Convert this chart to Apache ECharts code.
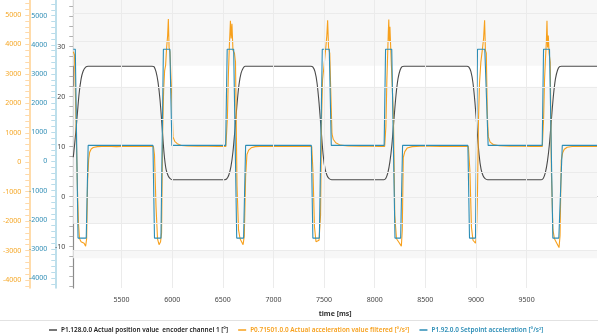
<!DOCTYPE html>
<html>
<head>
<meta charset="utf-8">
<script src="https://cdn.jsdelivr.net/npm/echarts@6/dist/echarts.min.js"></script>
<style>
  html, body { margin: 0; padding: 0; background: #fff; }
  #chart { width: 598px; height: 336px; }
</style>
</head>
<body>
<div id="chart"></div>
<script>
// Axis labels
const timeLabels = [5500, 6000, 6500, 7000, 7500, 8000, 8500, 9000, 9500];
const positionLabels = [-10, 0, 10, 20, 30];
const accelLabels = [-4000, -3000, -2000, -1000, 0, 1000, 2000, 3000, 4000, 5000];

// Background bands and grid rows (position-axis units)
const bandRanges = [[39.34, 26.2], [22.0, -5.3], [-10.7, -12.3]];
const gridRows = [36.7, 31.1, 21.9, 15.5, 4.9, -0.1, -5.3, -10.7];

// P1.128.0.0 Actual position value encoder channel 1 [°]
const positionTime = [
  5023, 5035, 5050, 5065, 5080, 5100, 5120, 5145, 5170,
  5800, 5820, 5840, 5860, 5880, 5900, 5920, 5940, 5960, 5980, 6000, 6020,
  6520, 6540, 6560, 6580, 6600, 6620, 6640, 6660, 6680, 6700, 6720,
  7370, 7390, 7410, 7430, 7450, 7470, 7490, 7510, 7530, 7550, 7575,
  8090, 8110, 8130, 8150, 8170, 8190, 8210, 8230, 8250, 8270, 8290,
  8910, 8930, 8950, 8970, 8990, 9010, 9030, 9050, 9070, 9090, 9115,
  9645, 9665, 9685, 9705, 9725, 9745, 9765, 9785, 9805, 9825, 9845, 10195
];
const positionValue = [
  7.9, 10.2, 13.4, 17.0, 20.5, 23.5, 25.1, 25.9, 26.1,
  26.1, 26.0, 25.0, 22.9, 19.3, 14.0, 8.6, 5.4, 4.2, 3.6, 3.4, 3.4,
  3.4, 3.6, 4.4, 6.0, 9.0, 13.5, 18.5, 22.5, 24.7, 25.7, 26.1,
  26.1, 25.9, 25.0, 22.8, 18.8, 13.6, 8.5, 5.5, 4.2, 3.6, 3.4,
  3.4, 3.7, 4.8, 7.0, 10.5, 15.5, 20.3, 23.6, 25.3, 26.0, 26.1,
  26.1, 25.9, 25.0, 22.8, 18.8, 13.6, 8.5, 5.5, 4.2, 3.6, 3.4,
  3.4, 3.7, 4.8, 7.0, 10.5, 15.5, 20.3, 23.6, 25.3, 26.0, 26.1, 26.1
];

// P0.71501.0.0 Actual acceleration value filtered [°/s²]
const filteredTime = [
  5023, 5035, 5045, 5055, 5065, 5075, 5085, 5100, 5115, 5130, 5145, 5155, 5165, 5175, 5185, 5200, 5220, 5260,
  5350, 5450, 5550, 5650, 5750, 5815,
  5825, 5840, 5855, 5870, 5885, 5895, 5905, 5915, 5925, 5935, 5945, 5955, 5962, 5969, 5978, 5988, 5998,
  6008, 6025, 6050, 6090, 6150, 6250, 6350, 6450, 6530,
  6545, 6555, 6565, 6575, 6582, 6590, 6600, 6615, 6625, 6640, 6655, 6670, 6685, 6700, 6712, 6725, 6738,
  6755, 6780, 6820, 6900, 7000, 7100, 7200, 7300, 7378,
  7390, 7405, 7420, 7435, 7450, 7465, 7475, 7485, 7500, 7517, 7527, 7535, 7544, 7556, 7566, 7578, 7590,
  7615, 7660, 7740, 7850, 7950, 8050, 8098,
  8110, 8120, 8128, 8134, 8139, 8144, 8150, 8160, 8175, 8185, 8198, 8215, 8235, 8250, 8263, 8272, 8282,
  8297, 8320, 8370, 8450, 8550, 8650, 8750, 8850, 8925,
  8940, 8955, 8970, 8985, 8995, 9005, 9015, 9025, 9035, 9048, 9062, 9075, 9085, 9093, 9102, 9112, 9122,
  9140, 9170, 9230, 9330, 9450, 9550, 9655,
  9668, 9677, 9686, 9695, 9701, 9707, 9714, 9722, 9733, 9745, 9760, 9775, 9790, 9805, 9820, 9830, 9842,
  9856, 9872, 9900, 9950, 10050, 10195
];
const filteredValue = [
  3750, 3650, 2200, 600, -1000, -2100, -2600, -2700, -2650, -2750, -2850, -2600, -600, 100, 340, 450, 500, 530,
  545, 530, 545, 535, 545, 535,
  250, -1500, -2600, -2800, -2700, -2400, 900, 2400, 3100, 3300, 3900, 4300, 4860, 3900, 3750, 3800, 2000,
  860, 710, 630, 570, 550, 540, 545, 535, 535,
  1500, 3000, 4000, 4800, 4200, 4700, 3800, 3700, 3400, -800, -2300, -2600, -2700, -2800, -2500, -500, 260,
  410, 490, 530, 545, 535, 545, 535, 545, 535,
  -300, -2200, -2700, -2750, -2650, -1800, 1500, 2800, 3300, 3900, 4300, 4820, 3900, 3700, 2400, 960, 780,
  660, 580, 550, 540, 545, 535, 535,
  1200, 2800, 3700, 4400, 4850, 4100, 4600, 3700, 3750, 1500, -1800, -2600, -2700, -2750, -2850, -2300, 160,
  360, 480, 530, 540, 545, 535, 545, 535, 535,
  -300, -2200, -2650, -2700, -2750, -2500, -1000, 1500, 2700, 3400, 3800, 4200, 4820, 3800, 3700, 1600, 860,
  680, 600, 560, 540, 545, 535, 535,
  1500, 2800, 3500, 4100, 4800, 3900, 4300, 3700, 3400, -400, -2300, -2600, -2700, -2750, -2900, -2500, 60,
  320, 440, 510, 535, 545, 535
];

// P1.92.0.0 Setpoint acceleration [°/s²]
const setpointTime = [
  5023, 5043, 5070, 5151, 5170,
  5810, 5825, 5889, 5913, 5977, 5997,
  6528, 6543, 6607, 6637, 6705, 6725,
  7374, 7389, 7453, 7482, 7551, 7571,
  8093, 8107, 8168, 8200, 8256, 8275,
  8920, 8936, 8995, 9015, 9087, 9120,
  9654, 9667, 9726, 9759, 9818, 9852, 10195
];
const setpointValue = [
  3850, 3850, -2630, -2630, 550,
  550, -2630, -2630, 3850, 3850, 550,
  550, 3850, 3850, -2630, -2630, 550,
  550, -2630, -2630, 3850, 3850, 550,
  550, 3850, 3850, -2630, -2630, 550,
  550, -2630, -2630, 3850, 3850, 550,
  550, 3850, 3850, -2630, -2630, 550, 550
];

const pairs = (xs, ys) => xs.map((x, i) => [x, ys[i]]);
const range = (a, b, step) => { const r = []; for (let v = a; v <= b + 1e-9; v += step) r.push(Math.round(v * 100) / 100); return r; };
const plain = v => String(v);

const FONT = 'Noto Sans';
const C_POS = '#4a4a4a', C_ACT = '#f7a01c', C_SET = '#2b8db6';

const chart = echarts.init(document.getElementById('chart'), null, { renderer: 'canvas' });

chart.setOption({
  animation: false,
  backgroundColor: '#ffffff',
  textStyle: { fontFamily: FONT },
  grid: { left: 72, right: 1, top: 0, bottom: 48, containLabel: false },
  xAxis: {
    type: 'value', min: 5023, max: 10195,
    name: 'time [ms]', nameLocation: 'middle', nameGap: 22,
    nameTextStyle: { fontFamily: FONT, fontSize: 7, fontWeight: 'bold', color: '#333' },
    axisLine: { show: true, lineStyle: { color: '#8a8a8a', width: 1 } },
    axisTick: { show: true, length: 3, customValues: range(5100, 10100, 100), lineStyle: { color: '#9a9a9a' } },
    axisLabel: { customValues: timeLabels, formatter: plain, fontSize: 7, color: '#444', margin: 8 },
    splitLine: { show: false }
  },
  yAxis: [
    {
      type: 'value', position: 'left', offset: 0, min: -18.26, max: 39.34,
      axisLine: { show: true, lineStyle: { color: '#8a8a8a', width: 1.2 } },
      axisTick: { show: true, length: 4, customValues: range(-18, 38, 2), lineStyle: { color: '#b0b0b0' } },
      axisLabel: { customValues: positionLabels, formatter: plain, fontSize: 7, color: '#444', margin: 8 },
      splitLine: { show: false }
    },
    {
      type: 'value', position: 'left', offset: 44, min: -4272, max: 5509,
      axisLine: { show: true, lineStyle: { color: '#ffcf8c', width: 1.5 } },
      axisTick: { show: true, length: 4, customValues: range(-4200, 5400, 200), lineStyle: { color: '#ffd9a8' } },
      axisLabel: { customValues: accelLabels, formatter: plain, fontSize: 7, color: '#f5a623', margin: 8 },
      splitLine: { show: false }
    },
    {
      type: 'value', position: 'left', offset: 18, min: -4343, max: 5539,
      axisLine: { show: true, lineStyle: { color: '#a9d4e4', width: 1.5 } },
      axisTick: { show: true, length: 4, customValues: range(-4200, 5400, 200), lineStyle: { color: '#b9dcea' } },
      axisLabel: { customValues: accelLabels, formatter: plain, fontSize: 7, color: '#2f8db5', margin: 8 },
      splitLine: { show: false }
    }
  ],
  legend: {
    top: 322, left: 44, itemGap: 10, itemWidth: 8, itemHeight: 1.5, icon: 'rect',
    textStyle: { fontFamily: FONT, fontSize: 6.4, fontWeight: 600, padding: [0, 0, 0, -1] },
    data: [
      { name: 'P1.128.0.0 Actual position value  encoder channel 1 [°]', textStyle: { color: '#222' } },
      { name: 'P0.71501.0.0 Actual acceleration value filtered [°/s²]', textStyle: { color: C_ACT } },
      { name: 'P1.92.0.0 Setpoint acceleration [°/s²]', textStyle: { color: C_SET } }
    ]
  },
  graphic: [
    { type: 'line', shape: { x1: 0, y1: 320.5, x2: 598, y2: 320.5 }, style: { stroke: '#e2e2e2', lineWidth: 1 }, silent: true }
  ],
  series: [
    {
      name: 'background', type: 'line', yAxisIndex: 0, data: [], silent: true, z: 0,
      markArea: {
        silent: true, itemStyle: { color: '#f7f7f7' },
        data: bandRanges.map(b => [{ yAxis: b[0] }, { yAxis: b[1] }])
      },
      markLine: {
        silent: true, symbol: 'none', label: { show: false },
        lineStyle: { color: '#ebebeb', width: 1, type: 'solid' },
        data: gridRows.map(v => ({ yAxis: v })).concat(timeLabels.map(t => ({ xAxis: t })))
      }
    },
    {
      name: 'P1.128.0.0 Actual position value  encoder channel 1 [°]', type: 'line', yAxisIndex: 0,
      data: pairs(positionTime, positionValue), showSymbol: false, smooth: 0.3,
      lineStyle: { color: C_POS, width: 1.1 }, itemStyle: { color: C_POS }, z: 2
    },
    {
      name: 'P0.71501.0.0 Actual acceleration value filtered [°/s²]', type: 'line', yAxisIndex: 1,
      data: pairs(filteredTime, filteredValue), showSymbol: false,
      lineStyle: { color: C_ACT, width: 1.1 }, itemStyle: { color: C_ACT }, z: 3
    },
    {
      name: 'P1.92.0.0 Setpoint acceleration [°/s²]', type: 'line', yAxisIndex: 2,
      data: pairs(setpointTime, setpointValue), showSymbol: false,
      lineStyle: { color: C_SET, width: 1.1 }, itemStyle: { color: C_SET }, z: 4
    }
  ]
});
</script>
</body>
</html>
